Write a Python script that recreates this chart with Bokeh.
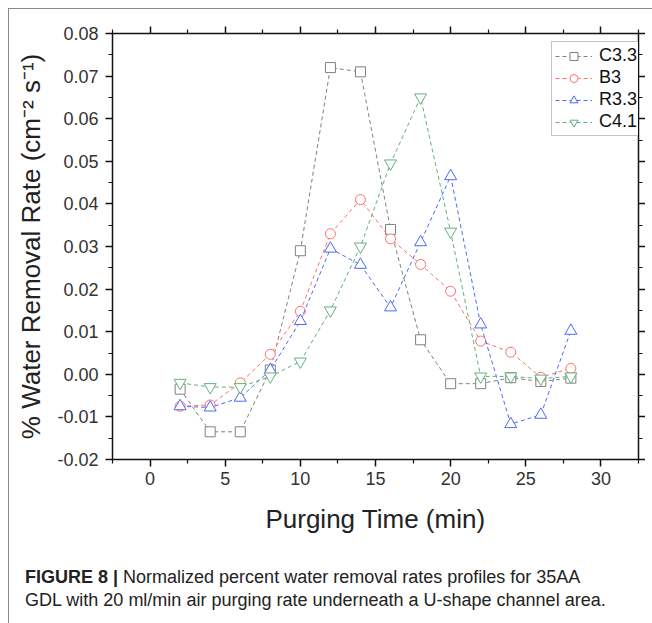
from bokeh.plotting import figure
from bokeh.layouts import column
from bokeh.models import (LinearAxis, FixedTicker, NumeralTickFormatter, Legend, LegendItem,
                          Range1d, Div)
from bokeh.embed import file_html
from bokeh.resources import INLINE

time_min = [2, 4, 6, 8, 10, 12, 14, 16, 18, 20, 22, 24, 26, 28]
c33 = [-0.0035, -0.0135, -0.0135, 0.001, 0.029, 0.072, 0.071, 0.034, 0.0081, -0.0022, -0.0022, -0.0008, -0.0017, -0.0009]
b3 = [-0.0075, -0.0072, -0.002, 0.0047, 0.0148, 0.033, 0.041, 0.0318, 0.0258, 0.0195, 0.0078, 0.0052, -0.0007, 0.0014]
r33 = [-0.0075, -0.0078, -0.0055, 0.001, 0.0125, 0.0295, 0.0257, 0.0157, 0.031, 0.0465, 0.0117, -0.0117, -0.0095, 0.0102]
c41 = [-0.002, -0.003, -0.003, -0.0005, 0.003, 0.015, 0.030, 0.0495, 0.065, 0.0335, -0.0005, -0.0005, -0.001, -0.0005]

series_names = ["C3.3", "B3", "R3.3", "C4.1"]
x_ticks = [0, 5, 10, 15, 20, 25, 30]
y_ticks = [-0.02, -0.01, 0.0, 0.01, 0.02, 0.03, 0.04, 0.05, 0.06, 0.07, 0.08]
x_minor = [-2.5, 2.5, 7.5, 12.5, 17.5, 22.5, 27.5, 32.5]
y_minor = [-0.015, -0.005, 0.005, 0.015, 0.025, 0.035, 0.045, 0.055, 0.065, 0.075]

caption_bold = "FIGURE 8 |"
caption_rest = ("Normalized percent water removal rates profiles for 35AA<br>"
                "GDL with 20 ml/min air purging rate underneath a U-shape channel area.")

FONT = "Liberation Sans"

p = figure(width=636, height=535, output_backend="svg", toolbar_location=None,
           x_range=Range1d(-2.5, 32.5), y_range=Range1d(-0.02, 0.08),
           min_border_left=103, min_border_top=24, min_border_right=6, min_border_bottom=85)
p.grid.visible = False
p.outline_line_color = None
p.background_fill_color = "white"
p.border_fill_color = "white"

xt = FixedTicker(ticks=x_ticks, minor_ticks=x_minor)
yt = FixedTicker(ticks=y_ticks, minor_ticks=y_minor)

def style_axis(ax, labels=True):
    ax.axis_line_color = "#111111"
    ax.axis_line_width = 1.5
    ax.major_tick_line_color = "#111111"
    ax.minor_tick_line_color = "#111111"
    ax.major_tick_line_width = 1.5
    ax.minor_tick_line_width = 1.2
    ax.major_tick_out = 7
    ax.major_tick_in = 0
    ax.minor_tick_out = 4
    ax.minor_tick_in = 0
    if labels:
        ax.major_label_text_font = FONT
        ax.major_label_text_font_size = "18px"
        ax.major_label_text_color = "#333333"
        ax.major_label_standoff = 7
        ax.axis_label_text_font = FONT
        ax.axis_label_text_font_style = "normal"
        ax.axis_label_text_color = "#222222"
    else:
        ax.major_label_text_font_size = "0px"
        ax.major_label_text_color = None
        ax.major_label_standoff = 0

p.xaxis.ticker = xt
p.yaxis.ticker = yt
p.yaxis.formatter = NumeralTickFormatter(format="0.00")
p.xaxis.axis_label = "Purging Time (min)"
p.yaxis.axis_label = "% Water Removal Rate (cm\u207b\u00b2 s\u207b\u00b9)"
style_axis(p.xaxis[0])
style_axis(p.yaxis[0])
p.xaxis.major_label_standoff = 5
p.xaxis.axis_label_text_font_size = "26px"
p.yaxis.axis_label_text_font_size = "26px"
p.xaxis.axis_label_standoff = 16
p.yaxis.axis_label_standoff = 8

top_ax = LinearAxis(ticker=xt)
right_ax = LinearAxis(ticker=yt)
style_axis(top_ax, labels=False)
style_axis(right_ax, labels=False)
p.add_layout(top_ax, "above")
p.add_layout(right_ax, "right")

colors = ["#808080", "#ff6f6f", "#4a6cf0", "#62b07e"]
markers = ["square", "circle", "triangle", "inverted_triangle"]
sizes = [10, 10, 12, 12]
data = [c33, b3, r33, c41]

items = []
for name, ys, col, mk, sz in zip(series_names, data, colors, markers, sizes):
    ln = p.line(time_min, ys, line_color=col, line_width=1, line_dash="4 3")
    sc = p.scatter(time_min, ys, marker=mk, size=sz, line_color=col, line_width=1,
                   fill_color="white")
    items.append(LegendItem(label=name, renderers=[ln, sc]))

legend = Legend(items=items, location=(439, 323))
legend.border_line_color = "#8a8a8a"
legend.border_line_width = 1
legend.background_fill_color = "white"
legend.label_text_font = FONT
legend.label_text_font_size = "18px"
legend.label_text_color = "#111111"
legend.glyph_width = 37
legend.glyph_height = 20
legend.label_standoff = 7
legend.padding = 3
legend.spacing = 1
legend.margin = 0
p.add_layout(legend, "center")

cap = Div(text=f"<b>{caption_bold}</b> {caption_rest}", width=636, height=70,
          styles={"font-family": FONT, "font-size": "18px", "line-height": "23px",
                  "color": "#222222", "padding-left": "11px", "padding-top": "17px"})

lay = column(p, cap, spacing=0,
             styles={"border-top": "1px solid #8a8a8a", "border-left": "1px solid #8a8a8a",
                     "margin-left": "8px", "margin-top": "8px"})

open("out.html", "w").write(file_html(lay, INLINE))
